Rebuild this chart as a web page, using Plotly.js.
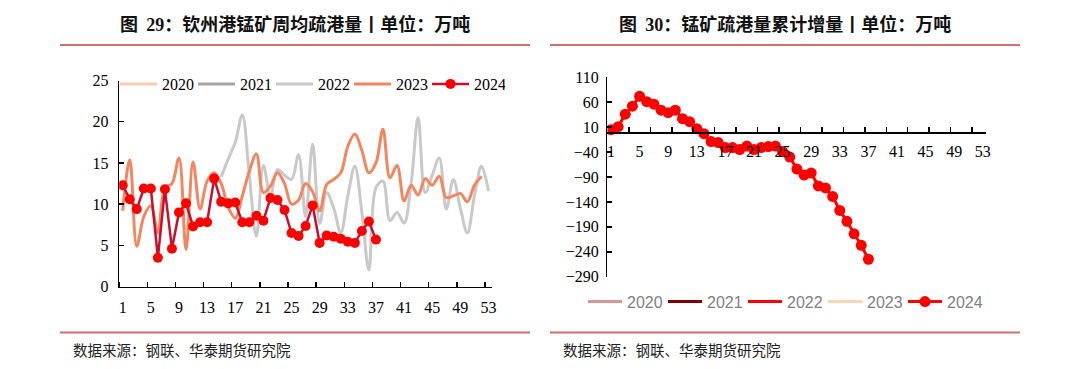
<!DOCTYPE html>
<html>
<head>
<meta charset="utf-8">
<script src="https://cdn.plot.ly/plotly-3.0.1.min.js"></script>
<style>
html,body{margin:0;padding:0;background:#fff;}
#chart{width:1080px;height:369px;}
</style>
</head>
<body>
<div id="chart"></div>
<script>
// ---------- data ----------
var weeks = [1,2,3,4,5,6,7,8,9,10,11,12,13,14,15,16,17,18,19,20,21,22,23,24,25,26,27,28,29,30,31,32,33,34,35,36,37,38,39,40,41,42,43,44,45,46,47,48,49,50,51,52,53];
var tickLabels = ['1','5','9','13','17','21','25','29','33','37','41','45','49','53'];
var tickLabelWeeks = [1,5,9,13,17,21,25,29,33,37,41,45,49,53];
var leftTickMarks = [0.5,4.5,8.5,12.5,16.5,20.5,24.5,28.5,32.5,36.5,40.5,44.5,48.5,52.5];
var rightTickMarks = [3.5,6.5,9.5,12.5,15.5,18.5,21.5,24.5,27.5,30.5,33.5,36.5,39.5,42.5,45.5,48.5,51.5];

// series without visible data in the charts (legend only)
var weeksEmpty = [1];
var volEmpty = [null];

var weeks2022 = [15,16,17,18,19,20,21,22,23,24,25,26,27,28,29,30,31,32,33,34,35,36,37,38,39,40,41,42,43,44,45,46,47,48,49,50,51,52,53];
var vol2022 = [13.3,15.5,17.5,20.8,13.5,6.1,14.7,11.0,14.2,13.5,13.0,16.0,8.5,17.3,7.7,11.4,9.5,6.5,11.0,14.6,9.0,2.0,12.0,12.8,8.0,9.0,7.7,12.5,20.5,11.4,13.5,15.6,9.4,13.0,9.5,6.5,11.0,14.6,11.6];

var weeks2023 = [1,2,3,4,5,6,7,8,9,10,11,12,13,14,15,16,17,18,19,20,21,22,23,24,25,26,27,28,29,30,31,32,33,34,35,36,37,38,39,40,41,42,43,44,45,46,47,48,49,50,51,52];
var vol2023 = [9.2,15.4,4.9,8.5,9.8,6.5,12.0,12.5,15.6,4.5,15.1,9.4,12.8,13.8,12.5,9.6,8.3,11.0,14.0,16.1,11.4,12.2,13.8,12.5,10.0,10.5,12.5,11.5,9.2,12.4,13.0,13.8,17.0,18.5,16.5,13.8,15.0,19.1,13.2,14.7,10.4,12.3,11.1,13.1,12.3,13.4,10.8,11.0,11.3,10.3,12.3,13.4];

var weeks2024 = [1,2,3,4,5,6,7,8,9,10,11,12,13,14,15,16,17,18,19,20,21,22,23,24,25,26,27,28,29,30,31,32,33,34,35,36,37];
var vol2024 = [12.3,10.6,9.4,11.9,11.9,3.5,11.8,4.6,9.0,10.1,7.3,7.8,7.8,13.1,10.3,10.1,10.2,7.8,7.8,8.6,8.0,10.75,10.5,9.3,6.5,6.15,7.35,9.85,5.3,6.2,6.05,5.8,5.45,5.3,6.75,7.9,5.7];
var cum2024 = [5,11,36,52,72,61,56,44,39,44,27,21,7,-3,-19,-21,-31,-31,-35,-28,-35,-31,-29,-28,-39,-50,-74,-86,-82,-108,-112,-129,-157,-179,-204,-227,-255];

var leftYTicks = [0,5,10,15,20,25];
var rightYTicks = [-290,-240,-190,-140,-90,-40,10,60,110];

// ---------- helpers ----------
var W = 1080, H = 369;
function px(x){return x/W;}
function py(y){return 1 - y/H;}

var serif = 'Liberation Serif, Times New Roman, serif';
var cjk = 'Noto Sans CJK SC, sans-serif';

var traces = [
  {x: weeksEmpty, y: volEmpty, name: '2020', mode: 'lines', line: {color: '#f8cbad', width: 3}, xaxis: 'x', yaxis: 'y', legend: 'legend'},
  {x: weeksEmpty, y: volEmpty, name: '2021', mode: 'lines', line: {color: '#a5a5a5', width: 3}, xaxis: 'x', yaxis: 'y', legend: 'legend'},
  {x: weeks2022, y: vol2022, name: '2022', mode: 'lines', line: {color: '#c9c9c9', width: 3, shape: 'spline', smoothing: 1}, xaxis: 'x', yaxis: 'y', legend: 'legend'},
  {x: weeks2023, y: vol2023, name: '2023', mode: 'lines', line: {color: '#f4865f', width: 3, shape: 'spline', smoothing: 1}, xaxis: 'x', yaxis: 'y', legend: 'legend'},
  {x: weeks2024, y: vol2024, name: '2024', mode: 'lines+markers', line: {color: '#c8102e', width: 2.5}, marker: {color: '#ff0000', size: 10}, xaxis: 'x', yaxis: 'y', legend: 'legend'},

  {x: weeksEmpty, y: volEmpty, name: '2020', mode: 'lines', line: {color: '#d99694', width: 3}, xaxis: 'x2', yaxis: 'y2', legend: 'legend2'},
  {x: weeksEmpty, y: volEmpty, name: '2021', mode: 'lines', line: {color: '#7f0000', width: 3}, xaxis: 'x2', yaxis: 'y2', legend: 'legend2'},
  {x: weeksEmpty, y: volEmpty, name: '2022', mode: 'lines', line: {color: '#ff0000', width: 3}, xaxis: 'x2', yaxis: 'y2', legend: 'legend2'},
  {x: weeksEmpty, y: volEmpty, name: '2023', mode: 'lines', line: {color: '#fbd4b4', width: 3}, xaxis: 'x2', yaxis: 'y2', legend: 'legend2'},
  {x: weeks2024, y: cum2024, name: '2024', mode: 'lines+markers', line: {color: '#ff0000', width: 3}, marker: {color: '#ff0000', size: 11}, xaxis: 'x2', yaxis: 'y2', legend: 'legend2'}
];

var titleFont = {family: cjk, size: 18, color: '#111'};
var footFont = {family: cjk, size: 14.5, color: '#222'};
var sepColor = '#cf6f72';

var layout = {
  width: W, height: H,
  margin: {l: 0, r: 0, t: 0, b: 0},
  paper_bgcolor: '#fff', plot_bgcolor: 'rgba(0,0,0,0)',
  showlegend: true,
  xaxis: {
    domain: [px(119.2), px(492)], range: [0.5, 53.5], anchor: 'y',
    tickmode: 'array', tickvals: tickLabelWeeks, ticktext: tickLabels, ticks: '',
    minor: {tickmode: 'array', tickvals: leftTickMarks, ticks: 'inside', ticklen: 5, tickcolor: '#000', tickwidth: 1.5},
    showline: true, linecolor: '#000', linewidth: 1.5, showgrid: false, zeroline: false,
    tickfont: {family: serif, size: 16, color: '#000'}, ticklabelstandoff: 6
  },
  yaxis: {
    domain: [py(286.6), py(80.5)], range: [0, 25], anchor: 'x',
    tickmode: 'array', tickvals: leftYTicks, ticks: 'inside', ticklen: 5, tickcolor: '#000', tickwidth: 1.5,
    showline: true, linecolor: '#000', linewidth: 1.5, showgrid: false, zeroline: false,
    tickfont: {family: serif, size: 16, color: '#000'}, ticklabelstandoff: 6
  },
  xaxis2: {
    domain: [px(607.4), px(986.4)], range: [0.5, 53.5], anchor: 'free', position: py(132.1),
    tickmode: 'array', tickvals: tickLabelWeeks, ticktext: tickLabels, ticks: '',
    minor: {tickmode: 'array', tickvals: rightTickMarks, ticks: 'inside', ticklen: 5, tickcolor: '#000', tickwidth: 1.5},
    showline: true, linecolor: '#000', linewidth: 1.5, showgrid: false, zeroline: false,
    tickfont: {family: serif, size: 16, color: '#000'}, ticklabelstandoff: 4
  },
  yaxis2: {
    domain: [py(276.7), py(77.3)], range: [-290, 110], anchor: 'x2',
    tickmode: 'array', tickvals: rightYTicks, ticks: 'inside', ticklen: 5, tickcolor: '#000', tickwidth: 1.5,
    showline: true, linecolor: '#000', linewidth: 1.5, showgrid: false, zeroline: false,
    tickfont: {family: serif, size: 16, color: '#000'}, ticklabelstandoff: 4
  },
  legend: {
    orientation: 'h', x: px(115), y: py(84), xanchor: 'left', yanchor: 'middle',
    bgcolor: 'rgba(0,0,0,0)', font: {family: serif, size: 16, color: '#000'},
    itemwidth: 37, entrywidth: 26, entrywidthmode: 'pixels', tracegroupgap: 0, itemclick: false
  },
  legend2: {
    orientation: 'h', x: px(583), y: py(301.7), xanchor: 'left', yanchor: 'middle',
    bgcolor: 'rgba(0,0,0,0)', font: {family: 'Liberation Sans, Arial, sans-serif', size: 16, color: '#808080'},
    itemwidth: 34, entrywidth: 31, entrywidthmode: 'pixels', itemclick: false
  },
  annotations: [
    {xref: 'paper', yref: 'paper', x: px(295), y: py(23), xanchor: 'center', yanchor: 'middle', showarrow: false,
     text: '<b>图&nbsp;&nbsp;<span style="font-family:Liberation Serif">29</span>：钦州港锰矿周均疏港量丨单位：万吨</b>', font: titleFont},
    {xref: 'paper', yref: 'paper', x: px(785), y: py(23), xanchor: 'center', yanchor: 'middle', showarrow: false,
     text: '<b>图&nbsp;&nbsp;<span style="font-family:Liberation Serif">30</span>：锰矿疏港量累计增量丨单位：万吨</b>', font: titleFont},
    {xref: 'paper', yref: 'paper', x: px(71), y: py(349), xanchor: 'left', yanchor: 'middle', showarrow: false,
     text: '数据来源：钢联、华泰期货研究院', font: footFont},
    {xref: 'paper', yref: 'paper', x: px(561), y: py(349), xanchor: 'left', yanchor: 'middle', showarrow: false,
     text: '数据来源：钢联、华泰期货研究院', font: footFont}
  ],
  shapes: [
    {type: 'line', xref: 'paper', yref: 'paper', x0: px(60), x1: px(530), y0: py(45), y1: py(45), line: {color: sepColor, width: 2}},
    {type: 'line', xref: 'paper', yref: 'paper', x0: px(550), x1: px(1020), y0: py(45), y1: py(45), line: {color: sepColor, width: 2}},
    {type: 'line', xref: 'paper', yref: 'paper', x0: px(60), x1: px(530), y0: py(332.5), y1: py(332.5), line: {color: sepColor, width: 2}},
    {type: 'line', xref: 'paper', yref: 'paper', x0: px(550), x1: px(1020), y0: py(332.5), y1: py(332.5), line: {color: sepColor, width: 2}}
  ]
};

Plotly.newPlot('chart', traces, layout, {staticPlot: true, displayModeBar: false});
</script>
</body>
</html>
